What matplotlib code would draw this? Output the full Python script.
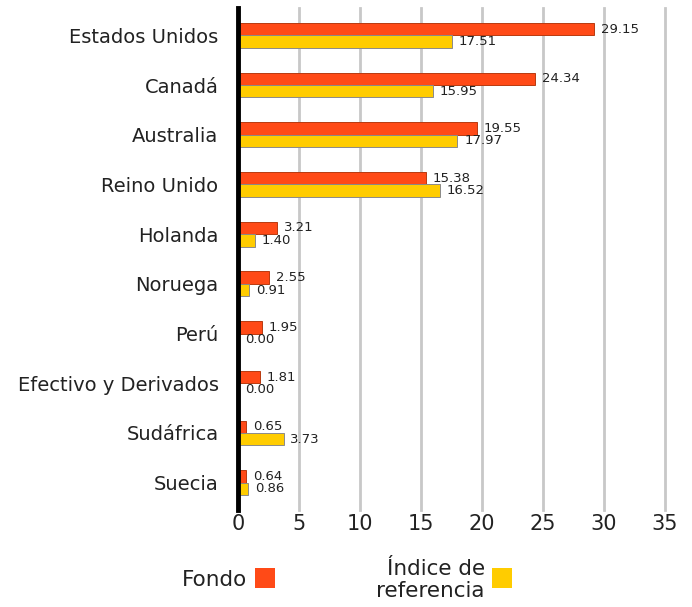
import matplotlib
matplotlib.use("Agg")
import matplotlib.pyplot as plt
from matplotlib.patches import Rectangle

categories = ["Estados Unidos", "Canadá", "Australia", "Reino Unido", "Holanda",
              "Noruega", "Perú", "Efectivo y Derivados", "Sudáfrica", "Suecia"]
fondo = [29.15, 24.34, 19.55, 15.38, 3.21, 2.55, 1.95, 1.81, 0.65, 0.64]
indice = [17.51, 15.95, 17.97, 16.52, 1.40, 0.91, 0.00, 0.00, 3.73, 0.86]
xticks = [0, 5, 10, 15, 20, 25, 30, 35]
series_names = ["Fondo", "Índice de\nreferencia"]

c_fondo = "#FF4A17"
c_ind = "#FFCC00"

plt.rcParams['font.family'] = ['DejaVu Sans']

fig = plt.figure(figsize=(6.92, 6.07), dpi=100)
ax = fig.add_axes([238/692, 1-510/607, (665-238)/692, (510-8)/607])

h = 0.25
ys = list(range(len(categories)))
ax.barh([y - h/2 for y in ys], fondo, height=h, color=c_fondo, edgecolor="#B83A10", linewidth=0.7, zorder=3)
ax.barh([y + h/2 for y in ys], indice, height=h, color=c_ind, edgecolor="#8a8a8a", linewidth=0.7, zorder=3)

for y, v in zip(ys, fondo):
    ax.annotate(f"{v:.2f}", (v, y - h/2), xytext=(5, 0), textcoords="offset points",
                va="center", ha="left", fontsize=9.5, color="#222222")
for y, v in zip(ys, indice):
    ax.annotate(f"{v:.2f}", (v, y + h/2), xytext=(5, 0), textcoords="offset points",
                va="center", ha="left", fontsize=9.5, color="#222222")

ax.set_xlim(0, 35)
ax.set_ylim(9.55, -0.55)
ax.set_yticks(ys)
ax.set_yticklabels(categories, fontsize=14, color="#222222")
ax.set_xticks(xticks)
ax.set_xticklabels([str(t) for t in xticks], fontsize=15, color="#222222")
ax.tick_params(axis="y", length=0, pad=14)
ax.tick_params(axis="x", length=0, pad=3)
ax.grid(axis="x", color="#c8c8c8", linewidth=2, zorder=0)
for gl in ax.get_xgridlines():
    gl.set_clip_on(False)
ax.set_axisbelow(True)
for s in ["top", "right", "bottom"]:
    ax.spines[s].set_visible(False)
ax.spines["left"].set_linewidth(3.5)
ax.spines["left"].set_color("black")
ax.spines["left"].set_zorder(5)

# legend
fig.patches.append(Rectangle((255/692, 1-588/607), 20/692, 20/607, transform=fig.transFigure,
                             facecolor=c_fondo, edgecolor="none"))
fig.text(247/692, 1-580/607, series_names[0], ha="right", va="center", fontsize=15.5, color="#222222")
fig.patches.append(Rectangle((492/692, 1-588/607), 20/692, 20/607, transform=fig.transFigure,
                             facecolor=c_ind, edgecolor="none"))
fig.text(485/692, 1-580/607, series_names[1], ha="right", va="center", fontsize=15.5,
         color="#222222", multialignment="right", linespacing=1.1)

fig.savefig("out.png", dpi=100)
